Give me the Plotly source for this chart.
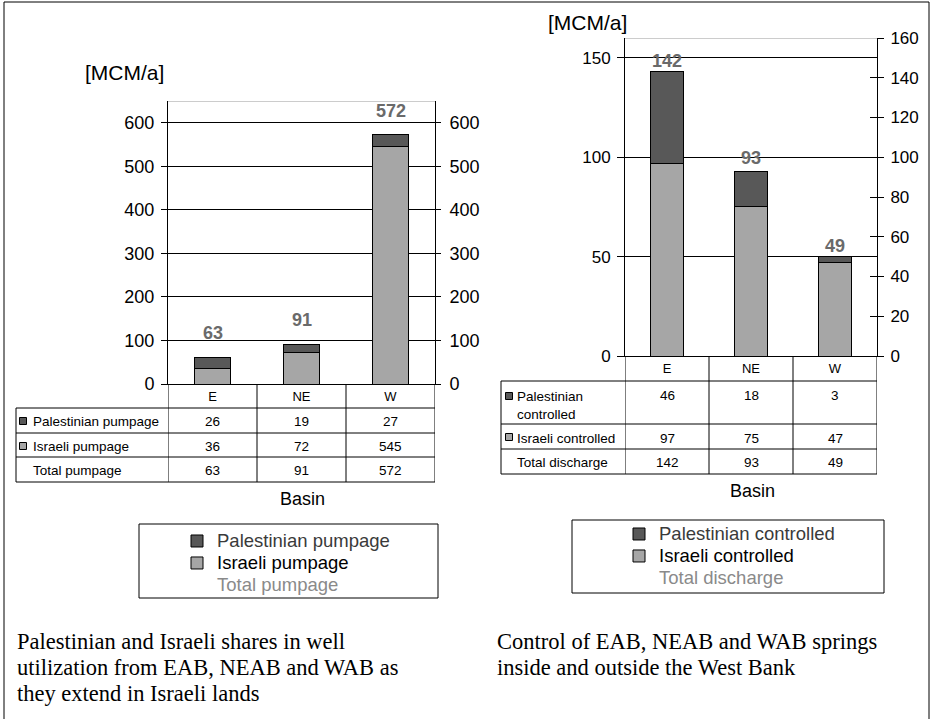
import plotly.graph_objects as go

W, H = 932, 719

# ---------------- data ----------------
basins = ["E", "NE", "W"]

pal_pumpage = [26, 19, 27]
isr_pumpage = [36, 72, 545]
total_pumpage = [63, 91, 572]

pal_springs = [46, 18, 3]
isr_springs = [97, 75, 47]
total_discharge = [142, 93, 49]

left_series_names = ["Palestinian pumpage", "Israeli pumpage", "Total pumpage"]
right_series_names = ["Palestinian controlled", "Israeli controlled", "Total discharge"]
right_row_labels = ["Palestinian<br>controlled", "Israeli controlled", "Total discharge"]

left_yticks = [0, 100, 200, 300, 400, 500, 600]
right_yticks_left = [0, 50, 100, 150]
right_yticks_right = [0, 20, 40, 60, 80, 100, 120, 140, 160]

unit_label = "[MCM/a]"
x_title = "Basin"
caption_left = ["Palestinian and Israeli shares in well",
                "utilization from EAB, NEAB and WAB as",
                "they extend in Israeli lands"]
caption_right = ["Control of EAB, NEAB and WAB springs",
                 "inside and outside the West Bank"]

# ---------------- style ----------------
DARK = "#585858"
LIGHT = "#a6a6a6"
LABEL_GRAY = "#6a6a6a"
FONT = "Liberation Sans, Arial, sans-serif"
SERIF = "Liberation Serif, Times New Roman, serif"


def fx(px):
    return px / W


def fy(py):
    return 1 - py / H


def legend_name(name, color):
    return "<span style='font-size:18.5px;color:%s'>%s</span>" % (color, name)


# layout geometry (pixels)
L_X0, L_X1, L_Y0, L_Y1 = 168, 435, 101, 384
R_X0, R_X1, R_Y0, R_Y1 = 625, 877, 38, 356
L_ROWS = [384, 408, 433, 457, 482]
R_ROWS = [356, 381, 424, 449, 474]
L_TAB_LEFT, R_TAB_LEFT = 16, 501

fig = go.Figure()

# left chart bars
fig.add_trace(go.Bar(x=basins, y=isr_pumpage, name=legend_name(left_series_names[1], "#000000"),
                     marker=dict(color=LIGHT, line=dict(color="black", width=1)),
                     width=0.4, xaxis="x", yaxis="y", legend="legend", legendrank=2))
fig.add_trace(go.Bar(x=basins, y=pal_pumpage, name=legend_name(left_series_names[0], "#3a3a3a"),
                     marker=dict(color=DARK, line=dict(color="black", width=1)),
                     width=0.4, xaxis="x", yaxis="y", legend="legend", legendrank=1))
fig.add_trace(go.Scatter(x=basins, y=total_pumpage, mode="lines",
                         name=legend_name(left_series_names[2], "#8a8a8a"),
                         line=dict(color="rgba(0,0,0,0)", width=0),
                         xaxis="x", yaxis="y2", legend="legend", legendrank=3, hoverinfo="skip"))
fig.add_trace(go.Scatter(x=basins, y=total_pumpage, mode="markers", marker=dict(opacity=0),
                         showlegend=False, xaxis="x", yaxis="y5", hoverinfo="skip"))

# right chart bars
fig.add_trace(go.Bar(x=basins, y=isr_springs, name=legend_name(right_series_names[1], "#000000"),
                     marker=dict(color=LIGHT, line=dict(color="black", width=1)),
                     width=0.4, xaxis="x2", yaxis="y3", legend="legend2", legendrank=2))
fig.add_trace(go.Bar(x=basins, y=pal_springs, name=legend_name(right_series_names[0], "#3a3a3a"),
                     marker=dict(color=DARK, line=dict(color="black", width=1)),
                     width=0.4, xaxis="x2", yaxis="y3", legend="legend2", legendrank=1))
fig.add_trace(go.Scatter(x=basins, y=total_discharge, mode="lines",
                         name=legend_name(right_series_names[2], "#8a8a8a"),
                         line=dict(color="rgba(0,0,0,0)", width=0),
                         xaxis="x2", yaxis="y4", legend="legend2", legendrank=3, hoverinfo="skip"))
fig.add_trace(go.Scatter(x=basins, y=total_discharge, mode="markers", marker=dict(opacity=0),
                         showlegend=False, xaxis="x2", yaxis="y6", hoverinfo="skip"))

tickfont_l = dict(family=FONT, size=18, color="black")
tickfont_r = dict(family=FONT, size=17, color="black")

common_y = dict(showline=True, linecolor="black", linewidth=1, zeroline=False,
                tickcolor="black", tickwidth=1, fixedrange=True, automargin=False)

layout = dict(
    template="none",
    width=W, height=H,
    margin=dict(l=0, r=0, t=0, b=0, pad=0, autoexpand=False),
    paper_bgcolor="white", plot_bgcolor="white",
    barmode="stack", hovermode=False,
    font=dict(family=FONT, color="black"),
    xaxis=dict(domain=[fx(L_X0), fx(L_X1)], anchor="y", type="category",
               range=[-0.5, 2.5], showline=True, linecolor="black", ticks="",
               tickfont=dict(family=FONT, size=13), showgrid=False, zeroline=False,
               automargin=False, fixedrange=True),
    yaxis=dict(domain=[fy(L_Y1), fy(L_Y0)], anchor="x", range=[0, 650],
               tickvals=left_yticks, ticks="outside", ticklen=6, showgrid=True,
               gridcolor="black", gridwidth=1, tickfont=tickfont_l,
               ticklabelstandoff=3, **common_y),
    yaxis2=dict(overlaying="y", side="right", anchor="x", range=[0, 650],
                tickvals=left_yticks, ticks="outside", ticklen=5, showgrid=False,
                tickfont=tickfont_l, ticklabelstandoff=5, **common_y),
    yaxis5=dict(overlaying="y", side="right", anchor="x", range=[0, 650],
                tickvals=left_yticks, ticks="inside", ticklen=5, showgrid=False,
                showticklabels=False, **common_y),
    xaxis2=dict(domain=[fx(R_X0), fx(R_X1)], anchor="y3", type="category",
                range=[-0.5, 2.5], showline=True, linecolor="black", ticks="",
                tickfont=dict(family=FONT, size=13), showgrid=False, zeroline=False,
                automargin=False, fixedrange=True),
    yaxis3=dict(domain=[fy(R_Y1), fy(R_Y0)], anchor="x2", range=[0, 160],
                tickvals=right_yticks_left, ticks="outside", ticklen=7, showgrid=True,
                gridcolor="black", gridwidth=1, tickfont=tickfont_r,
                ticklabelstandoff=3, **common_y),
    yaxis4=dict(overlaying="y3", side="right", anchor="x2", range=[0, 160],
                tickvals=right_yticks_right, ticks="outside", ticklen=6, showgrid=False,
                tickfont=tickfont_r, ticklabelstandoff=3, **common_y),
    yaxis6=dict(overlaying="y3", side="right", anchor="x2", range=[0, 160],
                tickvals=right_yticks_right, ticks="inside", ticklen=7, showgrid=False,
                showticklabels=False, **common_y),
    legend=dict(x=fx(177), y=fy(525), xanchor="left", yanchor="top",
                traceorder="normal", bgcolor="rgba(0,0,0,0)", borderwidth=0,
                font=dict(family=FONT, size=14.6, color="black"), tracegroupgap=0),
    legend2=dict(x=fx(619), y=fy(518), xanchor="left", yanchor="top",
                 traceorder="normal", bgcolor="rgba(0,0,0,0)", borderwidth=0,
                 font=dict(family=FONT, size=14.6, color="black"), tracegroupgap=0),
)
fig.update_layout(**layout)

shapes = []
annotations = []


def hline(y, x0, x1, color="black"):
    shapes.append(dict(type="line", xref="paper", yref="paper", x0=fx(x0), x1=fx(x1),
                       y0=fy(y), y1=fy(y), line=dict(color=color, width=1)))


def vline(x, y0, y1, xref="paper"):
    xx = fx(x) if xref == "paper" else x
    shapes.append(dict(type="line", xref=xref, yref="paper", x0=xx, x1=xx,
                       y0=fy(y0), y1=fy(y1), line=dict(color="black", width=1)))


def square(xc, yc, color, s=7):
    shapes.append(dict(type="rect", xref="paper", yref="paper",
                       x0=fx(xc - s / 2), x1=fx(xc + s / 2), y0=fy(yc + s / 2), y1=fy(yc - s / 2),
                       fillcolor=color, line=dict(color="black", width=1)))


def label(x, y, text, size, family=FONT, color="black", xanchor="center"):
    annotations.append(dict(xref="paper", yref="paper", x=fx(x), y=fy(y), text=text,
                            showarrow=False, xanchor=xanchor, yanchor="middle", align="left",
                            font=dict(family=family, size=size, color=color)))


# outer frame (left, top, right)
vline(4, 2, 719)
hline(2, 4, 929)
vline(929, 2, 719)

# plot-area top borders (grey)
shapes.append(dict(type="line", xref="x", yref="y", x0=-0.5, x1=2.5, y0=650, y1=650,
                   line=dict(color="#9a9a9a", width=1)))
shapes.append(dict(type="line", xref="x2", yref="y3", x0=-0.5, x1=2.5, y0=160, y1=160,
                   line=dict(color="#9a9a9a", width=1)))

# ---- left data table ----
for y in L_ROWS[1:]:
    hline(y, L_TAB_LEFT, L_X1)
vline(L_TAB_LEFT, L_ROWS[1], L_ROWS[-1])
for xc in [-0.5, 0.5, 1.5, 2.5]:
    vline(xc, L_ROWS[0], L_ROWS[-1], xref="x")

left_rows = [pal_pumpage, isr_pumpage, total_pumpage]
left_row_cy = [421, 446, 470]
for r, (vals, cy) in enumerate(zip(left_rows, left_row_cy)):
    for b, v in zip(basins, vals):
        annotations.append(dict(xref="x", yref="paper", x=b, y=fy(cy), text=str(v),
                                showarrow=False, xanchor="center", yanchor="middle",
                                font=dict(family=FONT, size=13.5, color="black")))
    label(31, cy, left_series_names[r], 13.5, xanchor="left")
square(23, left_row_cy[0], DARK)
square(23, left_row_cy[1], LIGHT)

# ---- right data table ----
for y in R_ROWS[1:]:
    hline(y, R_TAB_LEFT, R_X1)
vline(R_TAB_LEFT, R_ROWS[1], R_ROWS[-1])
for xc in [-0.5, 0.5, 1.5, 2.5]:
    shapes.append(dict(type="line", xref="x2", yref="paper", x0=xc, x1=xc,
                       y0=fy(R_ROWS[0]), y1=fy(R_ROWS[-1]), line=dict(color="black", width=1)))

right_rows = [pal_springs, isr_springs, total_discharge]
right_val_cy = [395, 439, 462]
right_lab_cy = [405, 438, 462]
for r, vals in enumerate(right_rows):
    for b, v in zip(basins, vals):
        annotations.append(dict(xref="x2", yref="paper", x=b, y=fy(right_val_cy[r]), text=str(v),
                                showarrow=False, xanchor="center", yanchor="middle",
                                font=dict(family=FONT, size=13.5, color="black")))
    label(515, right_lab_cy[r], right_row_labels[r], 13.5, xanchor="left")
square(509, 396, DARK)
square(509, 437, LIGHT)

# ---- bar total labels ----
for b, t in zip(basins, total_pumpage):
    annotations.append(dict(xref="x", yref="y", x=b, y=t, text="<b>%d</b>" % t, showarrow=False,
                            xanchor="center", yanchor="middle", yshift=24,
                            font=dict(family=FONT, size=18, color=LABEL_GRAY)))
for b, t in zip(basins, total_discharge):
    annotations.append(dict(xref="x2", yref="y3", x=b, y=t, text="<b>%d</b>" % t, showarrow=False,
                            xanchor="center", yanchor="middle", yshift=13,
                            font=dict(family=FONT, size=18, color=LABEL_GRAY)))

# ---- unit labels & axis titles ----
label(124, 72, unit_label, 21)
label(587, 22, unit_label, 21)
label(302, 499, x_title, 18)
label(752, 491, x_title, 18)

# ---- legend boxes ----
shapes.append(dict(type="rect", xref="paper", yref="paper", x0=fx(139), x1=fx(438),
                   y0=fy(598), y1=fy(524), line=dict(color="black", width=1)))
shapes.append(dict(type="rect", xref="paper", yref="paper", x0=fx(572), x1=fx(884),
                   y0=fy(593), y1=fy(520), line=dict(color="black", width=1)))

# ---- captions ----
for i, line in enumerate(caption_left):
    label(15, 641 + 26 * i, line, 22.5, family=SERIF, xanchor="left")
for i, line in enumerate(caption_right):
    label(495, 641 + 26 * i, line, 22.5, family=SERIF, xanchor="left")

fig.update_layout(shapes=shapes, annotations=annotations)
fig.write_html("out.html", config={"displayModeBar": False},
               post_script="document.body.style.margin='0px';")
